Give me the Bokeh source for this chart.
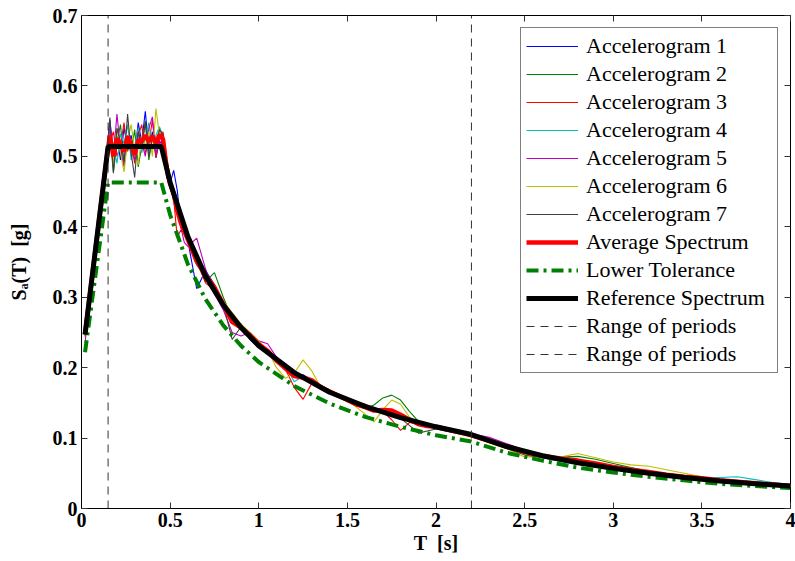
from bokeh.plotting import figure
from bokeh.models import Legend, LegendItem, FixedTicker, LinearAxis, Range1d
from bokeh.embed import file_html
from bokeh.resources import INLINE

# ---------------- data ----------------
x_limits = [0, 4]
y_limits = [0, 0.7]
x_ticks = [0, 0.5, 1, 1.5, 2, 2.5, 3, 3.5, 4]
x_tick_labels = ["0", "0.5", "1", "1.5", "2", "2.5", "3", "3.5", "4"]
y_ticks = [0, 0.1, 0.2, 0.3, 0.4, 0.5, 0.6, 0.7]
y_tick_labels = ["0", "0.1", "0.2", "0.3", "0.4", "0.5", "0.6", "0.7"]

period_range = [0.15, 2.2]

T_acc = [0.02, 0.04, 0.06, 0.08, 0.10, 0.12, 0.14, 0.16, 0.18, 0.20,
         0.22, 0.24, 0.26, 0.28, 0.30, 0.32, 0.34, 0.36, 0.38, 0.40,
         0.42, 0.44, 0.46, 0.48, 0.50, 0.52, 0.54, 0.56, 0.58, 0.60,
         0.65, 0.70, 0.75, 0.80, 0.85, 0.90, 0.95, 1.00, 1.05, 1.10,
         1.15, 1.20, 1.25, 1.30, 1.35, 1.40, 1.45, 1.50, 1.55, 1.60,
         1.65, 1.70, 1.75, 1.80, 1.85, 1.90, 1.95, 2.00, 2.05, 2.10,
         2.15, 2.20, 2.3, 2.4, 2.5, 2.6, 2.7, 2.8, 2.9, 3.0,
         3.1, 3.2, 3.3, 3.4, 3.5, 3.6, 3.7, 3.8, 3.9, 4.0]

acc1 = [.249, .290, .332, .371, .414, .455, .498, .552, .505, .528,
        .495, .541, .512, .530, .502, .548, .520, .564, .508, .535,
        .498, .522, .516, .470, .462, .480, .452, .405, .398, .380,
        .312, .338, .318, .283, .268, .262, .240, .228, .222, .212,
        .200, .190, .190, .182, .172, .168, .160, .153, .150, .146,
        .141, .137, .134, .130, .127, .121, .118, .116, .115, .111,
        .108, .105, .097, .090, .082, .077, .071, .066, .062, .057,
        .053, .050, .047, .044, .042, .040, .037, .035, .033, .032]

acc2 = [.244, .284, .326, .368, .408, .450, .488, .530, .478, .520,
        .545, .490, .522, .505, .538, .485, .515, .550, .495, .527,
        .512, .540, .530, .488, .455, .440, .420, .405, .390, .378,
        .352, .322, .335, .300, .270, .255, .246, .235, .224, .208,
        .205, .195, .187, .180, .175, .168, .160, .152, .146, .142,
        .147, .157, .161, .154, .138, .124, .120, .116, .112, .110,
        .107, .104, .095, .088, .082, .076, .073, .074, .070, .064,
        .058, .053, .049, .046, .043, .040, .038, .035, .033, .031]

acc3 = [.246, .289, .330, .372, .410, .453, .497, .520, .535, .500,
        .515, .548, .507, .522, .490, .530, .545, .505, .518, .552,
        .498, .526, .535, .500, .470, .440, .385, .395, .392, .385,
        .350, .320, .310, .293, .275, .258, .245, .232, .222, .210,
        .198, .172, .155, .178, .175, .168, .162, .156, .150, .148,
        .142, .138, .126, .111, .122, .120, .117, .115, .112, .110,
        .107, .104, .096, .089, .083, .077, .071, .066, .062, .058,
        .054, .051, .048, .045, .042, .040, .037, .035, .034, .033]

acc4 = [.248, .287, .328, .369, .412, .451, .492, .538, .515, .490,
        .532, .518, .545, .495, .512, .540, .505, .525, .548, .510,
        .530, .542, .525, .480, .458, .438, .425, .410, .396, .380,
        .345, .330, .312, .290, .272, .256, .243, .231, .220, .212,
        .203, .180, .188, .180, .170, .165, .158, .153, .148, .143,
        .139, .136, .132, .128, .124, .120, .118, .116, .113, .111,
        .109, .104, .094, .086, .078, .072, .067, .063, .059, .055,
        .052, .049, .046, .044, .043, .044, .045, .041, .037, .034]

acc5 = [.235, .283, .325, .367, .409, .448, .490, .545, .500, .560,
        .510, .485, .530, .515, .495, .535, .520, .500, .540, .556,
        .505, .520, .510, .478, .455, .440, .420, .400, .378, .372,
        .384, .340, .305, .282, .250, .245, .250, .238, .234, .215,
        .200, .190, .184, .182, .172, .166, .160, .156, .150, .146,
        .141, .137, .133, .130, .126, .123, .120, .118, .114, .111,
        .108, .106, .101, .092, .083, .076, .071, .066, .061, .057,
        .053, .050, .047, .044, .042, .039, .037, .035, .033, .032]

acc6 = [.250, .291, .331, .373, .415, .456, .495, .525, .490, .540,
        .505, .478, .522, .545, .510, .488, .530, .515, .535, .500,
        .568, .530, .520, .485, .460, .445, .430, .415, .405, .392,
        .360, .335, .315, .295, .278, .262, .250, .238, .225, .200,
        .185, .192, .211, .195, .172, .165, .160, .153, .144, .134,
        .123, .140, .154, .148, .130, .122, .118, .116, .113, .110,
        .107, .104, .093, .085, .073, .074, .073, .078, .072, .066,
        .062, .060, .055, .050, .045, .041, .038, .036, .034, .032]

acc7 = [.247, .288, .330, .371, .410, .452, .494, .555, .476, .540,
        .520, .492, .560, .505, .470, .535, .512, .548, .500, .525,
        .515, .538, .530, .490, .465, .445, .428, .412, .398, .385,
        .355, .332, .305, .290, .240, .258, .245, .232, .221, .210,
        .201, .194, .186, .180, .171, .165, .161, .154, .150, .146,
        .140, .138, .135, .128, .118, .107, .110, .113, .110, .108,
        .106, .103, .094, .085, .076, .072, .068, .063, .059, .055,
        .052, .049, .046, .043, .041, .039, .037, .035, .033, .031]

average = [.247, .288, .329, .370, .411, .452, .493, .530, .500, .525,
           .517, .507, .528, .517, .502, .523, .521, .530, .521, .529,
           .518, .531, .524, .484, .461, .447, .423, .406, .394, .382,
           .351, .331, .314, .290, .265, .257, .246, .233, .224, .210,
           .199, .188, .186, .182, .172, .166, .160, .154, .148, .144,
           .139, .140, .139, .133, .126, .120, .117, .116, .113, .110,
           .107, .104, .096, .088, .080, .075, .071, .068, .064, .059,
           .055, .052, .048, .045, .043, .040, .038, .036, .034, .032]

T_ref = [0.02, 0.15, 0.45, 0.5, 0.6, 0.7, 0.8, 0.9, 1.0, 1.2, 1.4, 1.6,
         1.8, 2.0, 2.2, 2.4, 2.6, 2.8, 3.0, 3.2, 3.4, 3.6, 3.8, 4.0]
reference = [0.247, 0.514, 0.514, 0.463, 0.386, 0.330, 0.289, 0.257, 0.231,
             0.193, 0.165, 0.145, 0.129, 0.116, 0.105, 0.088, 0.075, 0.065,
             0.057, 0.050, 0.044, 0.039, 0.035, 0.032]
lower_tol = [0.222, 0.463, 0.463, 0.417, 0.347, 0.297, 0.260, 0.231, 0.208,
             0.174, 0.149, 0.130, 0.116, 0.104, 0.095, 0.079, 0.068, 0.058,
             0.051, 0.045, 0.040, 0.035, 0.032, 0.029]

acc_series = [acc1, acc2, acc3, acc4, acc5, acc6, acc7]
acc_names = ["Accelerogram 1", "Accelerogram 2", "Accelerogram 3", "Accelerogram 4",
             "Accelerogram 5", "Accelerogram 6", "Accelerogram 7"]
acc_colors = ["#0000FF", "#008000", "#FF0000", "#00BFBF", "#BF00BF", "#BFBF00", "#404040"]

# ---------------- figure ----------------
SERIF = "'Liberation Serif'"

p = figure(width=795, height=561, output_backend="svg", toolbar_location=None,
           x_range=Range1d(*x_limits), y_range=Range1d(*y_limits),
           min_border_left=81, min_border_right=5, min_border_top=15,
           min_border_bottom=53)
p.background_fill_color = "white"
p.border_fill_color = "white"
p.outline_line_color = "black"
p.outline_line_width = 1
p.xgrid.visible = False
p.ygrid.visible = False

def style_axis(ax, ticks, labels, show_labels=True):
    ax.ticker = FixedTicker(ticks=ticks)
    ax.major_tick_in = 6
    ax.major_tick_out = 0
    ax.minor_tick_in = 0
    ax.minor_tick_out = 0
    ax.major_tick_line_color = "#333333"
    ax.axis_line_color = "black"
    if show_labels:
        ax.major_label_overrides = {t: l for t, l in zip(ticks, labels)}
        ax.major_label_text_font = SERIF
        ax.major_label_text_font_style = "bold"
        ax.major_label_text_font_size = "20px"
        ax.major_label_text_color = "black"
        ax.major_label_standoff = 4
    else:
        ax.major_label_text_font_size = "1px"
        ax.major_label_text_color = None
        ax.major_label_text_alpha = 0
        ax.major_label_standoff = 0
        ax.axis_line_color = None

xa = p.xaxis[0]
ya = p.yaxis[0]
style_axis(xa, x_ticks, x_tick_labels)
style_axis(ya, y_ticks, y_tick_labels)
xa.axis_label = "T\u00a0\u00a0[s]"
ya.axis_label = "S\u2090(T)\u00a0\u00a0[g]"
for ax in (xa, ya):
    ax.axis_label_text_font = SERIF
    ax.axis_label_text_font_style = "bold"
    ax.axis_label_text_font_size = "20px"
    ax.axis_label_text_color = "black"
xa.axis_label_standoff = 2
ya.axis_label_standoff = 20

top_ax = LinearAxis()
right_ax = LinearAxis()
style_axis(top_ax, x_ticks, x_tick_labels, show_labels=False)
style_axis(right_ax, y_ticks, y_tick_labels, show_labels=False)
p.add_layout(top_ax, "above")
p.add_layout(right_ax, "right")

items = []
for ys, name, col in zip(acc_series, acc_names, acc_colors):
    r = p.line(T_acc, ys, line_color=col, line_width=1.1)
    items.append(LegendItem(label=name, renderers=[r]))

r_avg = p.line(T_acc, average, line_color="#FF0000", line_width=4.5)
r_low = p.line(T_ref, lower_tol, line_color="#008000", line_width=4,
               line_dash="12 5 3 5")
r_ref = p.line(T_ref, reference, line_color="black", line_width=5)
items.append(LegendItem(label="Average Spectrum", renderers=[r_avg]))
items.append(LegendItem(label="Lower Tolerance", renderers=[r_low]))
items.append(LegendItem(label="Reference Spectrum", renderers=[r_ref]))

for t in period_range:
    r = p.line([t, t], y_limits, line_color="#333333", line_width=1, line_dash="8 6")
    items.append(LegendItem(label="Range of periods", renderers=[r]))

legend = Legend(items=items, location="top_right", margin=12, padding=5,
                spacing=2, label_height=22, glyph_height=22, glyph_width=52,
                label_standoff=8, label_width=186,
                label_text_font=SERIF, label_text_font_size="22px",
                label_text_color="black",
                border_line_color="black", border_line_width=1.5,
                background_fill_color="white", background_fill_alpha=1)
p.add_layout(legend)

open("out.html", "w").write(file_html(p, INLINE))
